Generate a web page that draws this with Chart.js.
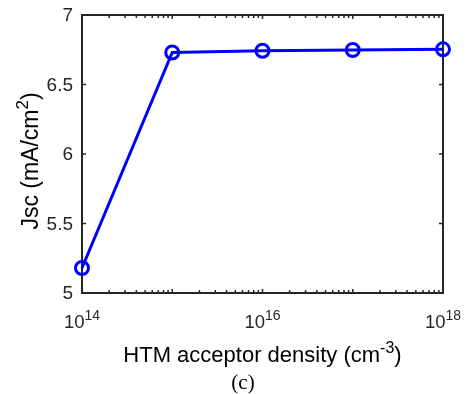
<!DOCTYPE html>
<html lang="en">
<head>
  <meta charset="UTF-8" />
  <title>Jsc vs HTM acceptor density</title>
  <script src="https://cdn.jsdelivr.net/npm/chart.js"></script>
  <style>
    body {
      margin: 0;
      background: #fff;
    }
    #wrap {
      width: 469px;
      height: 394px;
    }
  </style>
</head>
<body>
  <div id="wrap">
    <canvas id="jscChart" width="469" height="394"></canvas>
  </div>

  <script>
    // acceptor density (cm^-3) and short-circuit current (mA/cm^2)
    const densities = [1e14, 1e15, 1e16, 1e17, 1e18];
    const jscValues = [5.18, 6.73, 6.743, 6.748, 6.753];

    const yTicks = [5, 5.5, 6, 6.5, 7];
    const yTickLabels = ['5', '5.5', '6', '6.5', '7'];
    const xTickExponents = [14, 16, 18];

    const axisColor = '#262626';
    const sansFont = '"Liberation Sans", Arial, sans-serif';

    // draws text with a raised part: [[text, isSup], ...]
    function drawRich(ctx, parts, x, y, size, supSize, align) {
      let total = 0;
      parts.forEach(p => {
        ctx.font = (p[1] ? supSize : size) + 'px ' + sansFont;
        total += ctx.measureText(p[0]).width;
      });
      let cx = align === 'center' ? x - total / 2 : x;
      ctx.textAlign = 'left';
      ctx.textBaseline = 'alphabetic';
      parts.forEach(p => {
        ctx.font = (p[1] ? supSize : size) + 'px ' + sansFont;
        ctx.fillText(p[0], cx, p[1] ? y - size * 0.42 : y);
        cx += ctx.measureText(p[0]).width;
      });
    }

    const matlabAxes = {
      id: 'matlabAxes',
      beforeDatasetsDraw(chart) {
        const { ctx, chartArea: a, scales: { x, y } } = chart;
        ctx.save();
        ctx.strokeStyle = axisColor;
        ctx.lineWidth = 1.5;

        // ticks, inward on all four sides
        ctx.beginPath();
        yTicks.forEach(v => {
          const py = y.getPixelForValue(v);
          ctx.moveTo(a.left, py); ctx.lineTo(a.left + 4, py);
          ctx.moveTo(a.right, py); ctx.lineTo(a.right - 4, py);
        });
        for (let d = 14; d < 18; d++) {
          for (let m = 1; m <= 9; m++) {
            const px = x.getPixelForValue(m * Math.pow(10, d));
            const len = m === 1 ? 4 : 3;
            ctx.moveTo(px, a.bottom); ctx.lineTo(px, a.bottom - len);
            ctx.moveTo(px, a.top); ctx.lineTo(px, a.top + len);
          }
        }
        ctx.stroke();

        // box
        ctx.lineWidth = 2;
        ctx.strokeRect(a.left, a.top, a.right - a.left, a.bottom - a.top);

        // y tick labels
        ctx.fillStyle = axisColor;
        ctx.font = '19px ' + sansFont;
        ctx.textAlign = 'right';
        ctx.textBaseline = 'middle';
        yTicks.forEach((v, i) => {
          ctx.fillText(yTickLabels[i], a.left - 9, y.getPixelForValue(v) + 1);
        });

        // x tick labels 10^n
        xTickExponents.forEach(e => {
          const px = x.getPixelForValue(Math.pow(10, e));
          drawRich(ctx, [['10', false], [String(e), true]], px, 328, 18.5, 14, 'center');
        });

        // axis titles
        ctx.fillStyle = '#000';
        drawRich(ctx, [['HTM acceptor density (cm', false], ['-3', true], [')', false]],
          (a.left + a.right) / 2, 362, 22, 16, 'center');

        ctx.save();
        ctx.translate(38, 161);
        ctx.rotate(-Math.PI / 2);
        drawRich(ctx, [['Jsc (mA/cm', false], ['2', true], [')', false]], 0, 0, 23, 17, 'center');
        ctx.restore();

        // panel caption
        ctx.font = '21px "Liberation Serif", "Times New Roman", serif';
        ctx.textAlign = 'center';
        ctx.textBaseline = 'alphabetic';
        ctx.fillText('(c)', 243, 389);

        ctx.restore();
      }
    };

    new Chart(document.getElementById('jscChart'), {
      type: 'line',
      data: {
        datasets: [{
          data: densities.map((d, i) => ({ x: d, y: jscValues[i] })),
          borderColor: '#0000ff',
          borderWidth: 3,
          pointRadius: 6.5,
          pointBorderWidth: 3,
          pointBackgroundColor: 'rgba(0,0,0,0)',
          pointBorderColor: '#0000ff',
          tension: 0,
          clip: false
        }]
      },
      options: {
        responsive: false,
        animation: false,
        layout: { padding: { left: 82, top: 15, right: 26, bottom: 101 } },
        plugins: {
          legend: { display: false },
          tooltip: { enabled: false }
        },
        scales: {
          x: { type: 'logarithmic', min: 1e14, max: 1e18, display: false },
          y: { type: 'linear', min: 5, max: 7, display: false }
        }
      },
      plugins: [matlabAxes]
    });
  </script>
</body>
</html>
